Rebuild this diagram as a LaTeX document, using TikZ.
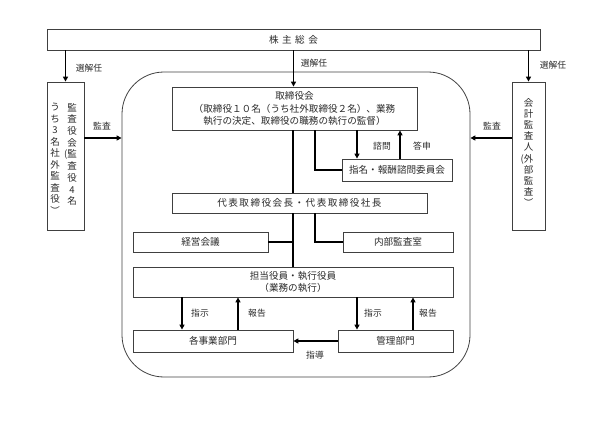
\documentclass[tikz,border=0pt]{standalone}
\usepackage{fontspec}
\newfontfamily\jp{Noto Sans CJK JP}
\usetikzlibrary{arrows.meta}
\definecolor{boxc}{HTML}{404040}
\definecolor{txt}{HTML}{2A2A2A}
\begin{document}
\begin{tikzpicture}[x=1pt,y=-1pt,
  box/.style={draw=boxc, line width=0.8pt, fill=white, inner sep=0pt, font=\jp\fontsize{9.6}{12.5}\selectfont, text=txt, align=center},
  lbl/.style={inner sep=0pt, font=\jp\fontsize{8.8}{10}\selectfont, text=txt},
  conn/.style={line width=1.4pt, draw=black},
  arr/.style={conn, -{Triangle[length=5pt,width=5pt]}},
  vtext/.style={inner sep=0pt, align=center, text=txt, anchor=north}
]
\useasboundingbox (0,0) rectangle (606,428);

% outer rounded frame
\node[draw=boxc, line width=0.8pt, rounded corners=42pt, minimum width=348pt, minimum height=305pt, inner sep=0pt] (outer) at (296,224.5) {};

% boxes
\node[box, minimum width=493pt, minimum height=21pt] (gm) at (293.5,39.5) {株\hspace{3.5pt}主\hspace{3.5pt}総\hspace{3.5pt}会};
\node[box, minimum width=37pt, minimum height=148pt] (kansa) at (65.5,156) {};
\node[box, minimum width=33pt, minimum height=148pt] (kaikei) at (528.5,156) {};
\node[box, minimum width=245pt, minimum height=43pt] (tb) at (294.5,108.5) {取締役会\\（取締役１０名（うち社外取締役２名）、業務\\執行の決定、取締役の職務の執行の監督）};
\node[box, minimum width=110pt, minimum height=22pt] (sm) at (397,170) {指名・報酬諮問委員会};
\node[box, minimum width=255pt, minimum height=20pt] (dh) at (299.5,203) {{\addfontfeature{LetterSpace=15}代表取締役会長・代表取締役社長}};
\node[box, minimum width=135pt, minimum height=20pt] (keiei) at (200.5,242) {経営会議};
\node[box, minimum width=110pt, minimum height=20pt] (naibu) at (398,242) {内部監査室};
\node[box, minimum width=320pt, minimum height=30pt, font=\jp\fontsize{9.6}{12}\selectfont] (tanto) at (293,282) {担当役員・執行役員\\（業務の執行）};
\node[box, minimum width=160pt, minimum height=22pt] (kakuji) at (213,341) {各事業部門};
\node[box, minimum width=115pt, minimum height=22pt] (kanri) at (395.5,341) {管理部門};

% vertical texts
\node[vtext, font=\jp\fontsize{9.5}{11.7}\selectfont] (kv1) at (72,103) {監\\査\\役\\会\\\llap{(}監\\査\\役\\4\\名};
\node[vtext, font=\jp\fontsize{9.5}{11.5}\selectfont] (kv2) at (55,103) {う\\ち\\3\\名\\社\\外\\監\\査\\役\\︶};
\node[vtext, font=\jp\fontsize{9.5}{11.2}\selectfont] (kv3) at (528.5,98) {会\\計\\監\\査\\人\\\llap{(}外\\部\\監\\査\\︶};

% helper coordinates
\coordinate (xa) at (315,0);
\coordinate (xb) at (357,0);
\coordinate (xc) at (400,0);
\coordinate (xd) at (182,0);
\coordinate (xe) at (238,0);
\coordinate (xf) at (357,0);
\coordinate (xg) at (413,0);
\coordinate (ya) at (0,138);

% connectors
\draw[arr] (gm.south -| kansa.north) -- (kansa.north);
\draw[arr] (gm.south) -- (gm.south |- tb.north);
\draw[arr] (gm.south -| kaikei.north) -- (kaikei.north);
\draw[arr] (kansa.east |- ya) -- (outer.west |- ya);
\draw[arr] (kaikei.west |- ya) -- (outer.east |- ya);
\draw[conn] (tb.south -| tanto.north) -- (dh.north -| tanto.north);
\draw[conn] (dh.south -| tanto.north) -- (tanto.north);
\draw[conn] (tb.south -| xa) |- (sm.west);
\draw[arr] (tb.south -| xb) -- (sm.north -| xb);
\draw[arr] (sm.north -| xc) -- (tb.south -| xc);
\draw[conn] (dh.south -| xa) |- (naibu.west);
\draw[conn] (keiei.east) -- (keiei.east -| tanto.north);
\draw[arr] (tanto.south -| xd) -- (kakuji.north -| xd);
\draw[arr] (kakuji.north -| xe) -- (tanto.south -| xe);
\draw[arr] (tanto.south -| xf) -- (kanri.north -| xf);
\draw[arr] (kanri.north -| xg) -- (tanto.south -| xg);
\draw[arr] (kanri.west) -- (kakuji.east);

% labels
\node[lbl] (l1) at (89,68) {選解任};
\node[lbl] (l2) at (314,63) {選解任};
\node[lbl] (l3) at (553,65) {選解任};
\node[lbl] (l4) at (102,126) {監査};
\node[lbl] (l5) at (492,126) {監査};
\node[lbl] (l6) at (382,146) {諮問};
\node[lbl] (l7) at (422,146) {答申};
\node[lbl] (l8) at (200,313) {指示};
\node[lbl] (l9) at (257,313) {報告};
\node[lbl] (l10) at (373,313) {指示};
\node[lbl] (l11) at (428,313) {報告};
\node[lbl] (l12) at (315,355) {指導};
\end{tikzpicture}
\end{document}
